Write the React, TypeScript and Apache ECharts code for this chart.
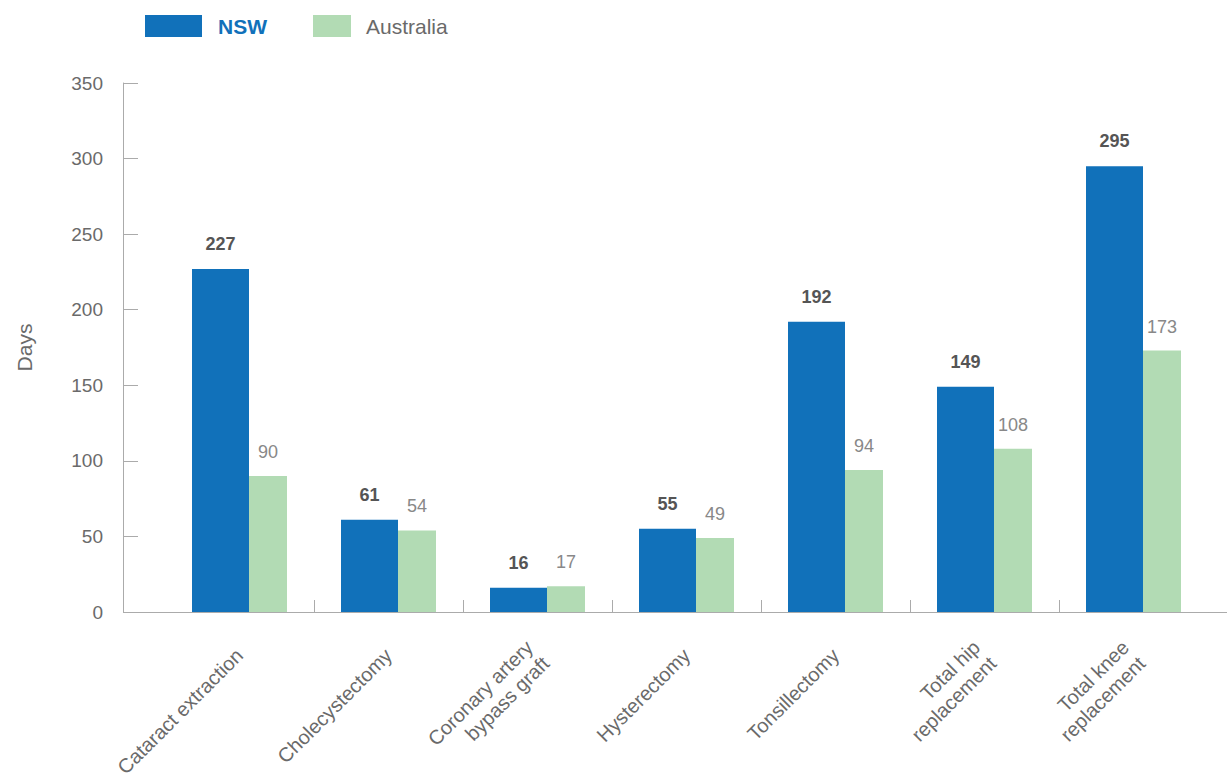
import React, { useEffect, useRef } from "react";
import * as echarts from "echarts";

const categories = [
  "Cataract extraction",
  "Cholecystectomy",
  "Coronary artery\nbypass graft",
  "Hysterectomy",
  "Tonsillectomy",
  "Total hip\nreplacement",
  "Total knee\nreplacement",
];
const nswValues = [227, 61, 16, 55, 192, 149, 295];
const australiaValues = [90, 54, 17, 49, 94, 108, 173];
const yTicks = { min: 0, max: 350, interval: 50 };
const boundaryTicks = [1, 2, 3, 4, 5, 6];

const FONT = "'Liberation Sans', Arial, sans-serif";
const NSW_COLOR = "#1171BA";
const AUS_COLOR = "#B2DBB4";
const AXIS_COLOR = "#ABABAB";
const TEXT_COLOR = "#6a6a6a";

export default function App() {
  const ref = useRef<HTMLDivElement>(null);
  useEffect(() => {
    document.body.style.margin = "0";
    const chart = echarts.init(ref.current!, null, { renderer: "svg" });
    chart.setOption({
      animation: false,
      textStyle: { fontFamily: FONT },
      legend: [
        {
          data: ["NSW"],
          left: 145,
          top: 15,
          padding: 0,
          itemWidth: 57,
          itemHeight: 22,
          icon: "rect",
          textStyle: {
            fontFamily: FONT,
            fontSize: 21,
            fontWeight: "bold",
            color: NSW_COLOR,
            padding: [0, 0, 0, 11],
          },
        },
        {
          data: ["Australia"],
          left: 313,
          top: 15,
          padding: 0,
          itemWidth: 38,
          itemHeight: 22,
          icon: "rect",
          textStyle: {
            fontFamily: FONT,
            fontSize: 21,
            color: TEXT_COLOR,
            padding: [0, 0, 0, 10],
          },
        },
      ],
      grid: {
        left: 165,
        right: 19,
        top: 83,
        bottom: 165,
        containLabel: false,
        outerBoundsMode: "none",
      },
      xAxis: [
        {
          type: "category",
          data: categories,
          axisLine: { show: true, lineStyle: { color: AXIS_COLOR, width: 1 } },
          axisTick: { show: false },
          axisLabel: {
            rotate: 45,
            margin: 40,
            fontSize: 20,
            lineHeight: 23,
            color: TEXT_COLOR,
            fontFamily: FONT,
            interval: 0,
          },
        },
        {
          type: "value",
          min: 0,
          max: 7,
          position: "bottom",
          axisLine: { show: false },
          axisLabel: { show: false },
          splitLine: { show: false },
          axisTick: {
            show: true,
            inside: true,
            length: 12,
            customValues: boundaryTicks,
            lineStyle: { color: AXIS_COLOR },
          },
        },
      ],
      yAxis: {
        type: "value",
        min: yTicks.min,
        max: yTicks.max,
        interval: yTicks.interval,
        offset: 42,
        name: "Days",
        nameLocation: "middle",
        nameGap: 88,
        nameTextStyle: { fontSize: 21, color: TEXT_COLOR, fontFamily: FONT },
        axisLine: { show: true, onZero: false, lineStyle: { color: AXIS_COLOR, width: 1 } },
        axisTick: { show: true, inside: true, length: 15, lineStyle: { color: AXIS_COLOR } },
        axisLabel: { margin: 20, fontSize: 19, color: TEXT_COLOR, fontFamily: FONT },
        splitLine: { show: false },
      },
      graphic: [
        {
          type: "line",
          shape: { x1: 123, y1: 612.5, x2: 165, y2: 612.5 },
          style: { stroke: AXIS_COLOR, lineWidth: 1 },
        },
        {
          type: "line",
          shape: { x1: 1208, y1: 612.5, x2: 1227, y2: 612.5 },
          style: { stroke: AXIS_COLOR, lineWidth: 1 },
        },
      ],
      series: [
        {
          name: "NSW",
          type: "bar",
          data: nswValues,
          barWidth: 57,
          barGap: "0%",
          itemStyle: { color: NSW_COLOR },
          label: {
            show: true,
            position: "top",
            distance: 16,
            fontSize: 18,
            fontWeight: "bold",
            color: "#555",
            fontFamily: FONT,
          },
        },
        {
          name: "Australia",
          type: "bar",
          data: australiaValues,
          barWidth: 38,
          barGap: "0%",
          itemStyle: { color: AUS_COLOR },
          label: {
            show: true,
            position: "top",
            distance: 15,
            fontSize: 18,
            color: "#888",
            fontFamily: FONT,
          },
        },
      ],
    });
    return () => chart.dispose();
  }, []);
  return <div ref={ref} style={{ width: 1227, height: 777 }} />;
}
